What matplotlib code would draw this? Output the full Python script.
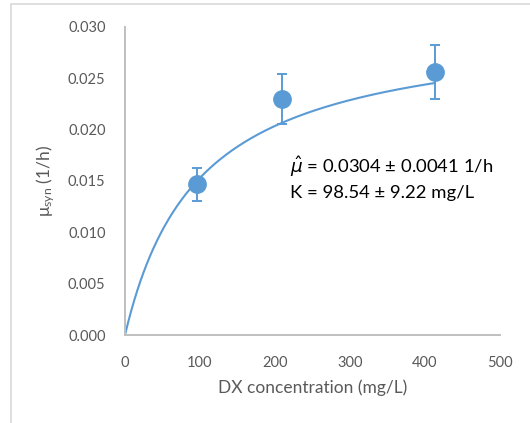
import numpy as np
import matplotlib
matplotlib.use("Agg")
import matplotlib.pyplot as plt
from matplotlib.patches import Rectangle

# Measured specific growth rates vs. DX concentration
dx_conc = [95.6, 208.9, 413.3]            # mg/L
mu_syn = [0.0147, 0.0230, 0.0256]         # 1/h
mu_err = [0.0016, 0.0024, 0.0026]         # 1/h

# Monod fit parameters
mu_hat, mu_hat_err = 0.0304, 0.0041       # 1/h
k_s, k_s_err = 98.54, 9.22                # mg/L

x_ticks = [0, 100, 200, 300, 400, 500]
y_ticks = [0.000, 0.005, 0.010, 0.015, 0.020, 0.025, 0.030]

plt.rcParams['font.family'] = ['Lato', 'DejaVu Sans']
plt.rcParams['mathtext.fontset'] = 'dejavusans'

blue = '#5B9BD5'
grey = '#595959'

fig = plt.figure(figsize=(5.30, 4.23), dpi=100)
fig.patch.set_facecolor('white')

# chart frame
fig.patches.append(Rectangle((11 / 530, -0.1), 1.2, (423 - 4) / 423 + 0.1,
                             transform=fig.transFigure, fill=False,
                             edgecolor='#D9D9D9', linewidth=1.2))

ax = fig.add_axes([125 / 530, (423 - 335) / 423, 375 / 530, 308 / 423])

s = np.linspace(0, max(dx_conc), 300)
ax.plot(s, mu_hat * s / (k_s + s), color=blue, linewidth=1.5, zorder=2)

ax.errorbar(dx_conc, mu_syn, yerr=mu_err, fmt='o', color=blue, ms=12.5,
            ecolor=blue, elinewidth=1.4, capsize=3.8, capthick=1.4, zorder=3)

ax.set_xlim(0, 500)
ax.set_ylim(0, 0.030)
ax.set_xticks(x_ticks)
ax.set_yticks(y_ticks)
ax.set_yticklabels([f'{v:.3f}' for v in y_ticks])
ax.tick_params(length=0, labelsize=10.5, labelcolor=grey)
ax.tick_params(axis='x', pad=15)
ax.tick_params(axis='y', pad=14)

for side in ('top', 'right'):
    ax.spines[side].set_visible(False)
for side in ('left', 'bottom'):
    ax.spines[side].set_color('#BFBFBF')
    ax.spines[side].set_linewidth(1.4)

ax.set_xlabel('DX concentration (mg/L)', fontsize=12.5, color=grey, labelpad=7)
ax.set_ylabel(r'$\mathregular{\mu_{syn}}$ (1/h)', fontsize=12.5, color=grey,
              labelpad=8)

ax.text(0.44, 0.548,
        r'$\hat{\mu}$' + f' = {mu_hat:.4f} ± {mu_hat_err:.4f} 1/h',
        transform=ax.transAxes, fontsize=13.3, color='black', va='center')
ax.text(0.44, 0.462, f'K = {k_s:.2f} ± {k_s_err:.2f} mg/L',
        transform=ax.transAxes, fontsize=13.3, color='black', va='center')

fig.savefig('out.png', dpi=100, facecolor='white')
